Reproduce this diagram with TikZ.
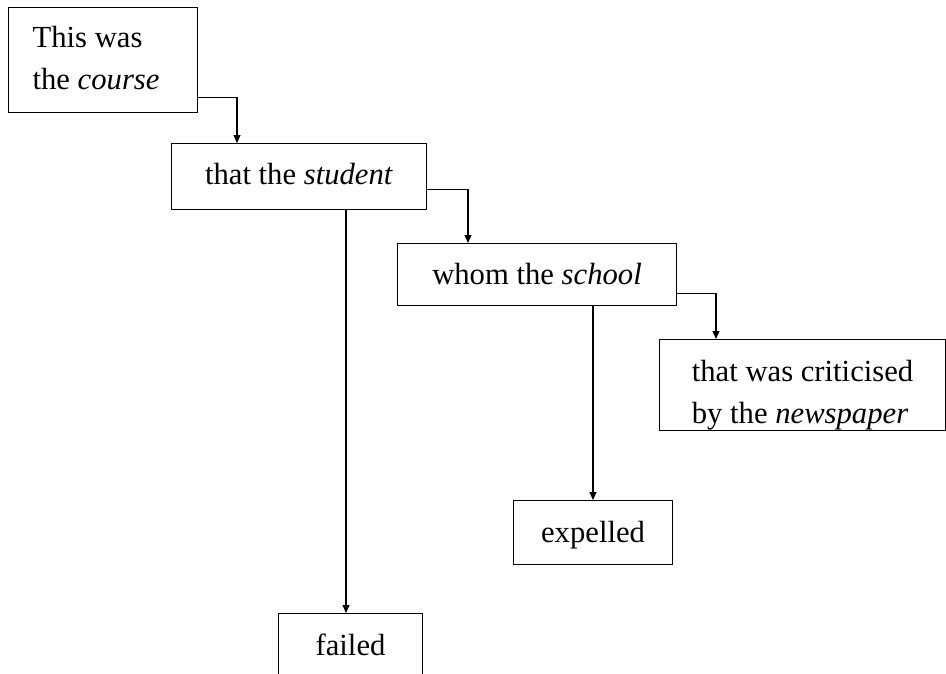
\documentclass[tikz,border=0pt]{standalone}
\usepackage{fontspec}
\setmainfont{Liberation Serif}
\usetikzlibrary{arrows.meta,calc}
\begin{document}
\begin{tikzpicture}[x=0.75pt,y=-0.75pt,
  box/.style={draw,line width=0.8pt,inner sep=0pt,anchor=north west,font=\fontsize{23}{31.5}\selectfont},
  low/.style={text height=17pt,text depth=2pt},
  mid/.style={text height=16pt,text depth=4pt},
  arr/.style={line width=0.8pt,-{Triangle[length=6pt,width=5.25pt]}}]
\useasboundingbox (0,0) rectangle (946,674);
\node[box,minimum width=141.75pt,minimum height=78.75pt] (b1) at (8,7)
  {\begin{tabular}{@{}l@{\hspace{10.5pt}}}This was\\the \textit{course}\end{tabular}};
\node[box,mid,minimum width=191.25pt,minimum height=49.5pt] (b2) at (171,143) {that the \textit{student}};
\node[box,low,minimum width=209.25pt,minimum height=46.5pt] (b3) at (397,243) {whom the \textit{school}};
\node[box,minimum width=214.5pt,minimum height=68.25pt] (b4) at (659,339)
  {\raisebox{0pt}[\height][\dimexpr\depth-13.5pt\relax]{\begin{tabular}{@{}l@{}}that was criticised\\by the \textit{newspaper}\end{tabular}}};
\node[box,low,minimum width=119.25pt,minimum height=48pt] (ex) at (513,500) {expelled};
\node[box,low,minimum width=108pt,minimum height=48pt] (f) at (278,613) {failed};
\draw[arr] ($(b1.south east)+(0,-16)$) -| ($(b2.north west)+(66,0)$);
\draw[arr] ($(b2.south east)+(0,-21)$) -| ($(b3.north west)+(71,0)$);
\draw[arr] ($(b3.south east)+(0,-13)$) -| ($(b4.north west)+(57,0)$);
\draw[arr] ($(b2.south west)+(175,0)$) -- ($(f.north west)+(68,0)$);
\draw[arr] ($(b3.south west)+(196,0)$) -- ($(ex.north west)+(80,0)$);
\end{tikzpicture}
\end{document}
